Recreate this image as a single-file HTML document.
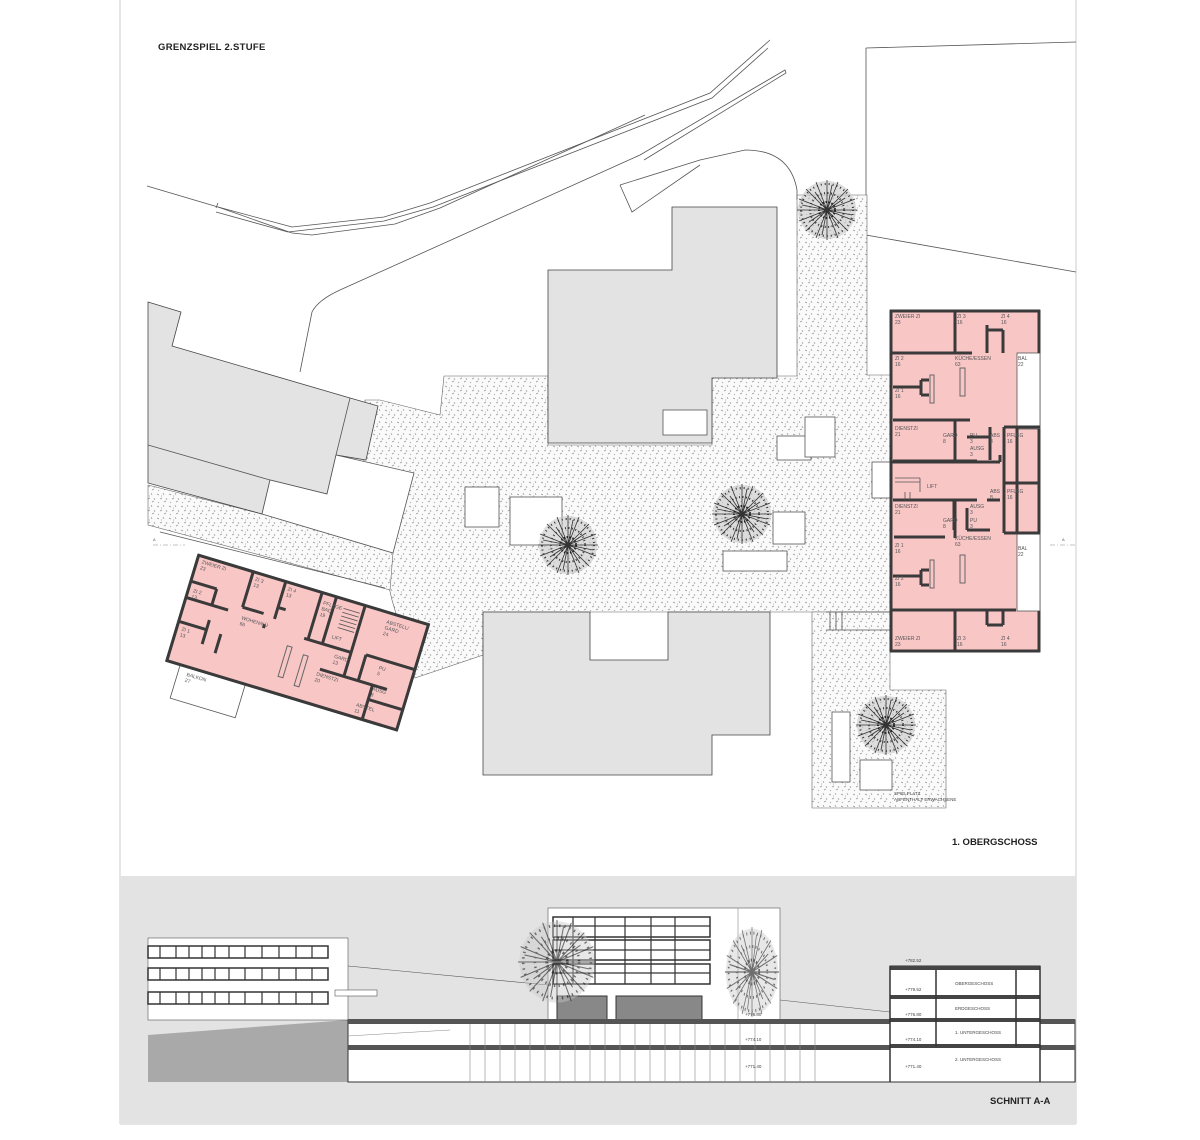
<!DOCTYPE html>
<html><head><meta charset="utf-8"><style>
html,body{margin:0;padding:0;background:#fff}
svg{display:block}
text{font-family:"Liberation Sans",sans-serif}
.l{fill:none;stroke:#555;stroke-width:0.8}
.g{fill:#e3e3e3;stroke:#444;stroke-width:0.8}
.sp{fill:url(#sp);stroke:#666;stroke-width:0.6}
.w{fill:#fff;stroke:#555;stroke-width:0.8}
.pk{fill:#f9c6c6;stroke:#444;stroke-width:0.8}
.wl{stroke:#3a3a3a;stroke-width:3;fill:none}
.rt{font-size:5px;fill:#555}
</style></head><body>
<svg width="1200" height="1140" viewBox="0 0 1200 1140" xmlns="http://www.w3.org/2000/svg">
<defs>
<pattern id="sp" width="12" height="12" patternUnits="userSpaceOnUse">
<rect width="12" height="12" fill="#fafafa"/>
<path d="M1 2l2 1M7 1l1 2M4 7l2-1M10 6l1 2M2 10l1 1M8 10l2-1M5 4l1 0" stroke="#999" stroke-width="0.7"/>
</pattern>
<g id="tree">
<circle r="29" fill="#c8c8c8" opacity="0.6"/>
<path d="M0 0L30 0M0 0L28 11M0 0L21 21M0 0L11 28M0 0L0 30M0 0L-11 28M0 0L-21 21M0 0L-28 11M0 0L-30 0M0 0L-28 -11M0 0L-21 -21M0 0L-11 -28M0 0L0 -30M0 0L11 -28M0 0L21 -21M0 0L28 -11M0 0L25 5M0 0L-5 25M0 0L-25 -5M0 0L5 -25M0 0L18 -12M0 0L-18 12M0 0L12 18M0 0L-12 -18" stroke="#333" stroke-width="0.8"/>
<circle r="26" fill="none" stroke="#333" stroke-width="2" stroke-dasharray="1 3"/>
<circle r="17" fill="none" stroke="#333" stroke-width="2" stroke-dasharray="1 2.5"/>
<circle r="8" fill="none" stroke="#222" stroke-width="2" stroke-dasharray="1.5 1.5"/>
<circle r="3" fill="#333"/>
</g>
</defs>
<!-- frame -->
<line x1="120" y1="0" x2="120" y2="1124" stroke="#ccc"/>
<line x1="1076" y1="0" x2="1076" y2="1124" stroke="#ccc"/>
<line x1="120" y1="1124" x2="1076" y2="1124" stroke="#ccc"/>
<text x="158" y="50" font-size="9.5" font-weight="bold" fill="#222" letter-spacing="0.3">GRENZSPIEL  2.STUFE</text>

<!-- roads -->
<path class="l" d="M147 186 L218 207 L292 227 L384 217 L430 203 L710 93 L770 40"/>
<path class="l" d="M216 212 L288 232 L384 221 L433 207 L712 98 L768 48"/>
<path class="l" d="M216 208 L218 203 M218 207 L292 233 L312 235 L395 224 L440 208 L645 115"/>
<path class="l" d="M300 372 L312 312 Q318 300 340 290 L640 155 L785 70 L786 73 L644 160"/>
<path class="l" d="M620 185 L700 160 L745 150 Q790 150 797 190 L797 200"/>
<path class="l" d="M620 185 L632 212 L700 165"/>
<path class="l" d="M866 48 L1076 42 M866 48 L866 235 L1076 272"/>

<!-- plaza speckle -->
<path class="sp" d="M797 195 L867 195 L867 375 L890 375 L890 612 L770 612 L770 612 L483 612 L483 655 L415 678 L392 600 L385 570 L362 560 L365 400 L380 400 L440 415 L444 376 L548 376 L548 445 L712 445 L712 376 L797 376 Z"/>
<path class="sp" d="M148 485 L262 514 L393 553 L390 590 L148 525 Z"/>
<path class="sp" d="M812 612 L890 612 L890 690 L946 690 L946 808 L812 808 Z"/>

<!-- gray buildings -->
<path class="g" d="M548 270 L672 270 L672 207 L777 207 L777 378 L712 378 L712 443 L548 443 Z"/>
<rect class="w" x="663" y="410" width="44" height="25"/>
<path class="g" d="M483 612 L590 612 L590 660 L668 660 L668 612 L770 612 L770 735 L712 735 L712 775 L483 775 Z"/>
<path class="g" d="M148 302 L181 312 L172 346 L350 398 L378 406 L366 460 L336 455 L327 494 L270 480 L262 514 L148 483 Z"/>
<path class="l" d="M350 398 L336 455 M148 445 L270 480"/>
<path class="w" d="M336 455 L414 473 L393 553 L262 514 L270 480 L327 494 Z"/>
<path class="l" d="M160 532 L385 588"/>

<!-- small courtyard boxes -->
<rect class="w" x="465" y="487" width="34" height="40"/>
<rect class="w" x="510" y="497" width="52" height="48"/>
<rect class="w" x="777" y="436" width="34" height="24"/>
<rect class="w" x="805" y="417" width="30" height="40"/>
<rect class="w" x="773" y="512" width="32" height="32"/>
<rect class="w" x="723" y="551" width="64" height="20"/>
<rect class="w" x="832" y="712" width="18" height="70"/>
<rect class="w" x="860" y="760" width="32" height="30"/>
<rect class="w" x="872" y="462" width="20" height="36"/>
<path class="l" d="M826 612 L890 612 M826 630 L890 630 M830 612 L830 630 M836 612 L836 630 M842 612 L842 630"/>
<text x="894" y="795" font-size="4.5" fill="#444">SPIELPLATZ</text>
<text x="894" y="801" font-size="4.5" fill="#444">AUFENTHALT ERWACHSENE</text>

<!-- trees -->
<use href="#tree" x="827" y="210"/>
<use href="#tree" x="568" y="545"/>
<use href="#tree" x="742" y="514"/>
<use href="#tree" x="886" y="725"/>

<!-- right pink building -->
<rect class="pk" x="890" y="310" width="150" height="342"/>
<rect class="w" x="1017" y="353" width="23" height="76"/>
<rect class="w" x="1017" y="533" width="23" height="78"/>
<path class="wl" d="M891 310 V650 M1039 310 V353 M1039 429 V533 M1039 611 V652 M890 311 H1040 M890 651 H1040"/>
<path class="wl" d="M890 353 H972 M955 311 V353 M987 325 V353 M987 330 H1003 M1003 330 V353 M893 387 H921 M921 380 V395 M921 380 H929 M921 395 H929 M893 420 H970 M893 461 H977 M890 462 H1000 M1000 462 V455 M955 420 V460 M990 435 V460 M967 437 H990 M990 427 V460 M1004 427 V483 M1004 483 H1040 M1004 427 H1040 M1017 427 V533 M954 500 V530 M893 500 H977 M894 537 H945 M955 500 V538 M987 500 H1000 M967 508 V530 M967 530 H990 M1004 483 V533 M1004 533 H1040 M893 576 H921 M921 570 V585 M921 570 H929 M921 585 H929 M890 610 H1016 M955 610 V650 M987 610 V625 M987 625 H1003 M1003 610 V625"/>
<rect x="930" y="375" width="4" height="28" fill="none" stroke="#666"/>
<rect x="960" y="368" width="5" height="28" fill="none" stroke="#666"/>
<rect x="930" y="560" width="4" height="28" fill="none" stroke="#666"/>
<rect x="960" y="555" width="5" height="28" fill="none" stroke="#666"/>
<g class="rt">
<text x="895" y="318">ZWEIER ZI</text><text x="895" y="324">23</text>
<text x="957" y="318">ZI 3</text><text x="957" y="324">16</text>
<text x="1001" y="318">ZI 4</text><text x="1001" y="324">16</text>
<text x="895" y="360">ZI 2</text><text x="895" y="366">16</text>
<text x="955" y="360">KÜCHE/ESSEN</text><text x="955" y="366">63</text>
<text x="1018" y="360">BAL</text><text x="1018" y="366">22</text>
<text x="895" y="392">ZI 1</text><text x="895" y="398">16</text>
<text x="895" y="430">DIENSTZI</text><text x="895" y="436">21</text>
<text x="943" y="437">GARD</text><text x="943" y="443">8</text>
<text x="970" y="437">PU</text><text x="970" y="443">3</text>
<text x="970" y="450">AUSG</text><text x="970" y="456">3</text>
<text x="990" y="437">ABS</text><text x="990" y="443">8</text>
<text x="1007" y="437">PFLEG</text><text x="1007" y="443">16</text>
<text x="927" y="488">LIFT</text>
<text x="990" y="493">ABS</text><text x="990" y="499">8</text>
<text x="1007" y="493">PFLEG</text><text x="1007" y="499">16</text>
<text x="895" y="508">DIENSTZI</text><text x="895" y="514">21</text>
<text x="943" y="522">GARD</text><text x="943" y="528">8</text>
<text x="970" y="508">AUSG</text><text x="970" y="514">3</text>
<text x="970" y="522">PU</text><text x="970" y="528">3</text>
<text x="955" y="540">KÜCHE/ESSEN</text><text x="955" y="546">63</text>
<text x="1018" y="550">BAL</text><text x="1018" y="556">22</text>
<text x="895" y="547">ZI 1</text><text x="895" y="553">16</text>
<text x="895" y="580">ZI 2</text><text x="895" y="586">16</text>
<text x="895" y="640">ZWEIER ZI</text><text x="895" y="646">23</text>
<text x="957" y="640">ZI 3</text><text x="957" y="646">16</text>
<text x="1001" y="640">ZI 4</text><text x="1001" y="646">16</text>
</g>
<path class="l" d="M895 478 H920 M895 482 H920 M920 478 V492 M905 492 V500 M910 492 V500"/>
<text x="153" y="541" font-size="4" fill="#555">A</text>
<text x="1062" y="541" font-size="4" fill="#555">A</text>
<line x1="153" y1="545" x2="185" y2="545" stroke="#888" stroke-width="0.6" stroke-dasharray="5 2 1 2"/>
<line x1="1050" y1="545" x2="1075" y2="545" stroke="#888" stroke-width="0.6" stroke-dasharray="5 2 1 2"/>

<!-- left pink building (rotated) -->
<g transform="translate(198,554) rotate(16.8)">
<rect class="w" x="15" y="110" width="68" height="36"/>
<rect class="pk" x="0" y="0" width="242" height="112"/>
<path class="wl" d="M0 1 H242 M1 0 V112 M241 0 V112 M0 111 H242 M58 0 V38 M58 38 H80 M92 0 V40 M92 28 H100 M84 48 V52 M130 0 V50 M126 50 H175 M145 0 V50 M145 50 H175 M175 0 V75 M190 48 V75 M190 48 H242 M150 75 H220 M205 75 V112 M205 90 H242 M2 28 H28 M28 28 V45 M2 45 H45 M2 70 H30 M30 60 V85 M45 70 V90"/>
<rect x="112" y="62" width="5" height="32" fill="none" stroke="#666"/>
<rect x="130" y="66" width="5" height="32" fill="none" stroke="#666"/>
<path class="l" d="M155 10 H172 M155 14 H172 M155 18 H172 M155 22 H172 M155 26 H172 M155 30 H172"/>
<g class="rt">
<text x="6" y="8">ZWEIER ZI</text><text x="6" y="14">23</text>
<text x="62" y="9">ZI 3</text><text x="62" y="15">13</text>
<text x="96" y="9">ZI 4</text><text x="96" y="15">13</text>
<text x="134" y="12">PFLEGE</text><text x="134" y="18">BAD</text><text x="134" y="24">19</text>
<text x="200" y="12">ABSTELL/</text><text x="200" y="18">GARD</text><text x="200" y="24">24</text>
<text x="6" y="38">ZI 2</text><text x="6" y="44">13</text>
<text x="6" y="78">ZI 1</text><text x="6" y="84">13</text>
<text x="60" y="50">WOHEN/KÜ</text><text x="60" y="56">66</text>
<text x="152" y="42">LIFT</text>
<text x="160" y="60">GARD</text><text x="160" y="66">13</text>
<text x="148" y="82">DIENSTZI</text><text x="148" y="88">20</text>
<text x="206" y="58">PU</text><text x="206" y="64">5</text>
<text x="206" y="80">AUSG</text><text x="206" y="86">8</text>
<text x="195" y="100">ABSTEL</text><text x="195" y="106">11</text>
<text x="24" y="120">BALKON</text><text x="24" y="126">27</text>
</g>
</g>

<text x="952" y="845" font-size="9.5" font-weight="bold" fill="#222">1. OBERGSCHOSS</text>

<!-- SECTION -->
<rect x="120" y="876" width="956" height="248" fill="#e3e3e3"/>
<path d="M148 1035 L348 1020 L348 1082 L148 1082 Z" fill="#a9a9a9"/>
<rect x="148" y="1070" width="928" height="12" fill="#a9a9a9"/>
<path d="M1040 1048 L1076 1045 L1076 1082 L1040 1082 Z" fill="#a9a9a9"/>
<!-- left building -->
<rect x="148" y="938" width="200" height="82" fill="#fff" stroke="#555" stroke-width="0.6"/>
<g fill="#fff" stroke="#333" stroke-width="1.5">
<rect x="148" y="946" width="180" height="12"/><rect x="148" y="968" width="180" height="12"/><rect x="148" y="992" width="180" height="12"/>
</g>
<path d="M160 946 V958 M176 946 V958 M189 946 V958 M202 946 V958 M215 946 V958 M229 946 V958 M245 946 V958 M262 946 V958 M279 946 V958 M296 946 V958 M312 946 V958" stroke="#333" stroke-width="1.2"/>
<path d="M160 968 V980 M176 968 V980 M189 968 V980 M202 968 V980 M215 968 V980 M229 968 V980 M245 968 V980 M262 968 V980 M279 968 V980 M296 968 V980 M312 968 V980" stroke="#333" stroke-width="1.2"/>
<path d="M160 992 V1004 M176 992 V1004 M189 992 V1004 M202 992 V1004 M215 992 V1004 M229 992 V1004 M245 992 V1004 M262 992 V1004 M279 992 V1004 M296 992 V1004 M312 992 V1004" stroke="#333" stroke-width="1.2"/>
<rect x="335" y="990" width="42" height="6" fill="#fff" stroke="#555" stroke-width="0.6"/>
<line x1="348" y1="966" x2="548" y2="985" stroke="#555" stroke-width="0.6"/>
<line x1="780" y1="1000" x2="890" y2="1012" stroke="#555" stroke-width="0.6"/>
<!-- tall building -->
<rect x="548" y="908" width="232" height="112" fill="#fff" stroke="#555" stroke-width="0.6"/>
<line x1="738" y1="908" x2="738" y2="1020" stroke="#888" stroke-width="0.6"/>
<g fill="#fff" stroke="#333" stroke-width="1.5">
<rect x="553" y="917" width="157" height="20"/><rect x="553" y="940" width="157" height="20"/><rect x="553" y="964" width="157" height="20"/>
</g>
<path d="M573 917 V984 M595 917 V984 M625 917 V984 M651 917 V984 M675 917 V984 M553 926 H710 M553 950 H710 M553 973 H710" stroke="#333" stroke-width="1.2"/>
<rect x="557" y="996" width="50" height="24" fill="#888" stroke="#333"/>
<rect x="616" y="996" width="86" height="24" fill="#888" stroke="#333"/>
<g transform="translate(557,962) scale(1.3,1.4)" opacity="0.7"><use href="#tree"/></g>
<g transform="translate(752,972) scale(0.9,1.5)" opacity="0.7"><use href="#tree"/></g>
<!-- underground -->
<rect x="348" y="1020" width="727" height="62" fill="#fff" stroke="#333"/>
<rect x="348" y="1019" width="727" height="5" fill="#555"/>
<rect x="348" y="1045" width="727" height="5" fill="#555"/>
<path d="M470 1024 V1082 M485 1024 V1082 M500 1024 V1082 M515 1024 V1082 M530 1024 V1082 M545 1024 V1082 M560 1024 V1082 M575 1024 V1082 M590 1024 V1082 M605 1024 V1082 M620 1024 V1082 M635 1024 V1082 M650 1024 V1082 M665 1024 V1082 M680 1024 V1082 M695 1024 V1082 M710 1024 V1082 M725 1024 V1082 M740 1024 V1082 M755 1024 V1082 M770 1024 V1082 M785 1024 V1082 M800 1024 V1082 M815 1024 V1082" stroke="#888" stroke-width="0.6"/>
<line x1="348" y1="1036" x2="450" y2="1030" stroke="#888" stroke-width="0.5"/>
<!-- right building section -->
<rect x="890" y="966" width="150" height="116" fill="#fff" stroke="#333"/>
<path d="M890 968 H1040 M890 997 H1040 M890 1020 H1040 M890 1046 H1040" stroke="#444" stroke-width="4"/>
<path d="M890 966 V1082 M1040 966 V1082 M936 970 V1046 M1016 970 V1046" stroke="#333" stroke-width="1.5"/>
<g font-size="4.5" fill="#444">
<text x="955" y="985">OBERGESCHOSS</text><text x="955" y="1010">ERDGESCHOSS</text>
<text x="955" y="1034">1. UNTERGESCHOSS</text><text x="955" y="1061">2. UNTERGESCHOSS</text>
<text x="905" y="962">+782.52</text><text x="905" y="991">+779.52</text><text x="905" y="1016">+776.80</text>
<text x="905" y="1041">+774.10</text><text x="905" y="1068">+771.40</text>
<text x="745" y="1016">+776.80</text><text x="745" y="1041">+774.10</text><text x="745" y="1068">+771.40</text>
</g>
<text x="990" y="1104" font-size="9.5" font-weight="bold" fill="#222">SCHNITT A-A</text>
</svg>
</body></html>
